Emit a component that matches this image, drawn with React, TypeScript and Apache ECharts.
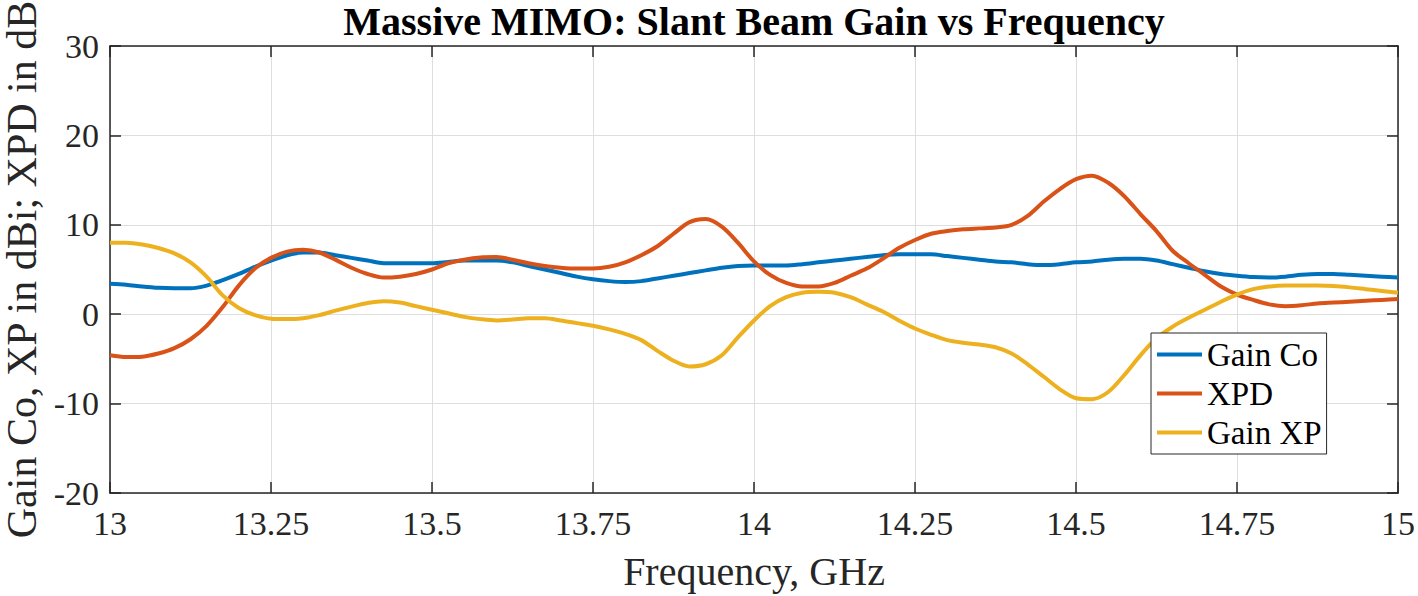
import React, { useEffect, useRef } from "react";
import * as echarts from "echarts";

const freq = [
  13.0, 13.025, 13.05, 13.075, 13.1, 13.125, 13.15, 13.175, 13.2, 13.225,
  13.25, 13.275, 13.3, 13.325, 13.35, 13.375, 13.4, 13.425, 13.45, 13.475,
  13.5, 13.525, 13.55, 13.575, 13.6, 13.625, 13.65, 13.675, 13.7, 13.725,
  13.75, 13.775, 13.8, 13.825, 13.85, 13.875, 13.9, 13.925, 13.95, 13.975,
  14.0, 14.025, 14.05, 14.075, 14.1, 14.125, 14.15, 14.175, 14.2, 14.225,
  14.25, 14.275, 14.3, 14.325, 14.35, 14.375, 14.4, 14.425, 14.45, 14.475,
  14.5, 14.525, 14.55, 14.575, 14.6, 14.625, 14.65, 14.675, 14.7, 14.725,
  14.75, 14.775, 14.8, 14.825, 14.85, 14.875, 14.9, 14.925, 14.95, 14.975,
  15.0,
];

const gainCo = [
  3.4, 3.3, 3.1, 2.95, 2.9, 2.9, 3.2, 3.8, 4.5, 5.3,
  6.0, 6.6, 6.9, 6.9, 6.6, 6.3, 6.0, 5.7, 5.7, 5.7,
  5.7, 5.85, 6.0, 6.0, 6.0, 5.8, 5.4, 5.0, 4.6, 4.2,
  3.9, 3.7, 3.6, 3.7, 4.0, 4.3, 4.6, 4.9, 5.2, 5.4,
  5.45, 5.45, 5.45, 5.6, 5.8, 6.0, 6.2, 6.4, 6.6, 6.7,
  6.7, 6.7, 6.5, 6.3, 6.1, 5.9, 5.8, 5.6, 5.5, 5.6,
  5.8, 5.9, 6.1, 6.2, 6.2, 6.0, 5.6, 5.2, 4.8, 4.5,
  4.3, 4.15, 4.1, 4.2, 4.4, 4.5, 4.5, 4.4, 4.3, 4.2,
  4.1,
];

const xpd = [
  -4.6, -4.8, -4.75, -4.4, -3.8, -2.8, -1.3, 0.8, 3.2, 5.1,
  6.3, 7.0, 7.2, 6.9, 6.1, 5.2, 4.5, 4.1, 4.2, 4.5,
  5.0, 5.7, 6.1, 6.35, 6.4, 6.1, 5.7, 5.4, 5.2, 5.1,
  5.1, 5.3, 5.8, 6.6, 7.6, 9.0, 10.3, 10.65, 9.8, 8.0,
  5.9, 4.4, 3.5, 3.1, 3.1, 3.5, 4.3, 5.1, 6.2, 7.4,
  8.3, 9.0, 9.3, 9.5, 9.6, 9.7, 10.0, 11.0, 12.6, 14.0,
  15.1, 15.5, 14.7, 13.2, 11.2, 9.3, 7.1, 5.7, 4.4, 3.1,
  2.2, 1.6, 1.1, 0.9, 1.0, 1.2, 1.3, 1.4, 1.5, 1.6,
  1.7,
];

const gainXp = [
  8.0, 8.0, 7.8, 7.4, 6.8, 5.8, 4.2, 2.1, 0.7, -0.1,
  -0.5, -0.55, -0.45, -0.1, 0.4, 0.85, 1.25, 1.45, 1.3, 0.9,
  0.5, 0.1, -0.3, -0.55, -0.7, -0.6, -0.45, -0.45, -0.7, -1.0,
  -1.3, -1.7, -2.2, -2.9, -4.1, -5.2, -5.85, -5.6, -4.6, -2.6,
  -0.7, 0.9, 1.9, 2.4, 2.5, 2.4, 1.9, 1.1, 0.3, -0.7,
  -1.6, -2.3, -2.9, -3.2, -3.4, -3.7, -4.4, -5.6, -7.0, -8.4,
  -9.4, -9.5, -8.7, -6.8, -4.6, -2.7, -1.4, -0.4, 0.5, 1.4,
  2.2, 2.8, 3.1, 3.2, 3.2, 3.2, 3.15, 3.0, 2.8, 2.6,
  2.4,
];

const seriesNames = ["Gain Co", "XPD", "Gain XP"];
const seriesColors = ["#0072BD", "#D95319", "#EDB120"];

const titleText = "Massive MIMO: Slant Beam Gain vs Frequency";
const xName = "Frequency, GHz";
const yName = "Gain Co, XP in dBi; XPD in dB";

const FONT = "Liberation Serif";

export default function App() {
  const ref = useRef<HTMLDivElement>(null);

  useEffect(() => {
    document.body.style.margin = "0";
    if (!ref.current) return;
    const chart = echarts.init(ref.current, undefined, { renderer: "svg" });
    const values = [gainCo, xpd, gainXp];
    const axisLine = { show: true, onZero: false, lineStyle: { color: "#262626", width: 1.5 } };
    const tick = { show: true, inside: true, length: 11, lineStyle: { color: "#262626", width: 1.5 } };
    const option: any = {
      animation: false,
      backgroundColor: "#ffffff",
      textStyle: { fontFamily: FONT },
      title: {
        text: titleText,
        left: 754,
        textAlign: "center",
        top: 0,
        padding: 0,
        textStyle: {
          fontFamily: FONT,
          fontWeight: "bold",
          fontSize: 40,
          lineHeight: 42,
          color: "#000000",
        },
      },
      legend: {
        orient: "vertical",
        left: 1151,
        top: 333,
        padding: [2, 5, 2, 6],
        itemGap: 0,
        itemWidth: 45,
        itemHeight: 4,
        icon: "rect",
        backgroundColor: "#ffffff",
        borderColor: "#262626",
        borderWidth: 1,
        borderRadius: 0,
        data: seriesNames,
        textStyle: {
          fontFamily: FONT,
          fontSize: 33,
          color: "#000000",
          lineHeight: 39,
        },
      },
      grid: { left: 110, right: 20, top: 46, bottom: 103, containLabel: false, outerBoundsMode: "none" },
      xAxis: [
        {
          type: "value",
          min: 13,
          max: 15,
          interval: 0.25,
          position: "bottom",
          name: xName,
          nameLocation: "middle",
          nameGap: 58,
          nameTextStyle: { fontFamily: FONT, fontSize: 40, color: "#262626" },
          axisLine,
          axisTick: tick,
          axisLabel: { fontFamily: FONT, fontSize: 34, color: "#262626", margin: 13 },
          splitLine: { show: true, lineStyle: { color: "#dedede", width: 1 } },
        },
        {
          type: "value",
          min: 13,
          max: 15,
          interval: 0.25,
          position: "top",
          axisLine,
          axisTick: tick,
          axisLabel: { show: false },
          splitLine: { show: false },
        },
      ],
      yAxis: [
        {
          type: "value",
          min: -20,
          max: 30,
          interval: 10,
          position: "left",
          name: yName,
          nameLocation: "middle",
          nameGap: 62,
          nameTextStyle: { fontFamily: FONT, fontSize: 42, color: "#262626" },
          axisLine,
          axisTick: tick,
          axisLabel: { fontFamily: FONT, fontSize: 34, color: "#262626", margin: 11 },
          splitLine: { show: true, lineStyle: { color: "#dedede", width: 1 } },
        },
        {
          type: "value",
          min: -20,
          max: 30,
          interval: 10,
          position: "right",
          axisLine,
          axisTick: tick,
          axisLabel: { show: false },
          splitLine: { show: false },
        },
      ],
      series: seriesNames.map((name, i) => ({
        name,
        type: "line",
        xAxisIndex: 0,
        yAxisIndex: 0,
        data: freq.map((f, j) => [f, values[i][j]]),
        showSymbol: false,
        smooth: 0.3,
        color: seriesColors[i],
        lineStyle: { color: seriesColors[i], width: 4 },
        itemStyle: { color: seriesColors[i] },
      })),
    };
    chart.setOption(option);
    return () => chart.dispose();
  }, []);

  return <div ref={ref} style={{ width: 1418, height: 596 }} />;
}
